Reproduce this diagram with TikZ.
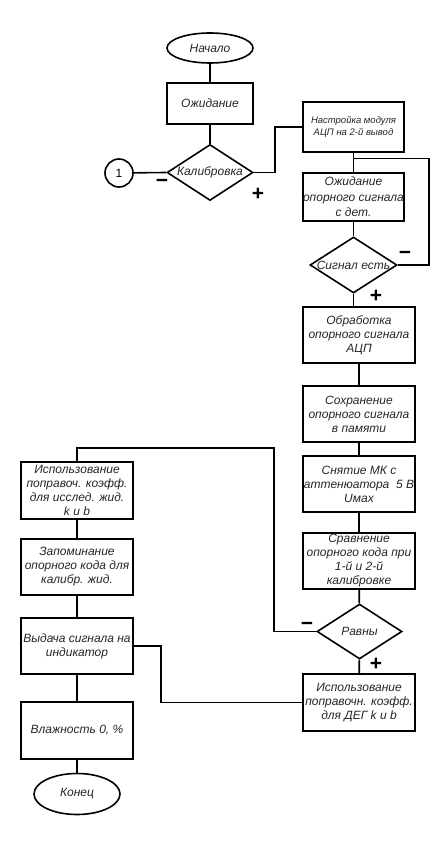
\documentclass[tikz,border=0pt]{standalone}
\usepackage{fontspec}
\setmainfont{Liberation Sans}
\usetikzlibrary{shapes.geometric,calc}
\begin{document}
\begin{tikzpicture}[x=1pt,y=-1pt,line width=1.6pt,
  txt/.style={align=center,inner sep=0pt,text=black!85,font=\itshape\fontsize{12}{14}\selectfont},
  smalltxt/.style={txt,font=\itshape\fontsize{9.5}{12.5}\selectfont},
  proc/.style={draw,rectangle,inner sep=0pt},
  term/.style={draw,ellipse,inner sep=0pt,minimum width=86pt},
  decide/.style={draw,diamond,inner sep=0pt,minimum width=86pt,minimum height=56pt},
  sign/.style={inner sep=0pt,font=\bfseries\fontsize{21}{21}\selectfont}]
\useasboundingbox (0,0) rectangle (446,842);

% terminals
\node[term,minimum height=30pt,label={[txt]center:Начало}] (start) at (210,48) {};
\node[proc,minimum width=86pt,minimum height=41pt,label={[txt]center:Ожидание}] (wait1) at (210,103.5) {};
\node[decide,label={[txt]center:Калибровка}] (calib) at (210,172.5) {};
\node[draw,circle,minimum size=28pt,inner sep=0pt,font=\fontsize{12}{14}\selectfont] (c1) at (119,173) {1};

% right column upper
\node[proc,minimum width=101pt,minimum height=50pt,label={[smalltxt]center:Настройка модуля\\АЦП на 2-й вывод}] (nast) at (353.5,127) {};
\node[proc,minimum width=101pt,minimum height=48pt,label={[txt,font=\itshape\fontsize{12}{15.5}\selectfont]center:Ожидание\\опорного сигнала\\с дет.}] (wait2) at (353.5,197) {};
\node[decide,minimum width=87pt,label={[txt]center:Сигнал есть}] (sig) at (353.5,265) {};

% right column lower
\node[proc,minimum width=112pt,minimum height=56pt,label={[txt]center:Обработка\\опорного сигнала\\АЦП}] (obr) at (359,335) {};
\node[proc,minimum width=112pt,minimum height=56pt,label={[txt]center:Сохранение\\опорного сигнала\\в памяти}] (sohr) at (359,414) {};
\node[proc,minimum width=112pt,minimum height=56pt,label={[txt]center:Снятие МК с\\аттенюатора~ 5 В\\Uмах}] (snyat) at (359,484) {};
\node[proc,minimum width=112pt,minimum height=56pt,label={[txt]center:Сравнение\\опорного кода при\\1-й и 2-й\\калибровке}] (srav) at (359,561) {};
\node[decide,minimum width=85pt,minimum height=55pt,label={[txt]center:Равны}] (ravny) at (359.5,631.5) {};
\node[proc,minimum width=112pt,minimum height=57pt,label={[txt]center:Использование\\поправочн. коэфф.\\для ДЕГ k и b}] (isp2) at (359,702.5) {};

% left column
\node[proc,minimum width=112pt,minimum height=57pt,label={[txt]center:Использование\\поправоч. коэфф.\\для исслед. жид.\\k и b}] (isp1) at (77,490.5) {};
\node[proc,minimum width=112pt,minimum height=56pt,label={[txt]center:Запоминание\\опорного кода для\\калибр. жид.}] (zap) at (77,567) {};
\node[proc,minimum width=112pt,minimum height=56pt,label={[txt]center:Выдача сигнала на\\индикатор}] (vyd) at (77,646) {};
\node[proc,minimum width=112pt,minimum height=57pt,label={[txt]center:Влажность 0, \%}] (vlazh) at (77,730.5) {};
\node[term,minimum height=41pt,label={[txt]center:Конец}] (kon) at (77,794) {};

% signs
\node[sign] (m1) at (162,183) {−};
\node[sign] (p1) at (258,194) {+};
\node[sign] (m2) at (405,255) {−};
\node[sign] (p2) at (376,296) {+};
\node[sign] (m3) at (307,626) {−};
\node[sign] (p3) at (376,664) {+};

% connectors
\draw (start) -- (wait1);
\draw (wait1) -- (calib);
\draw (calib.west) -- (c1);
\draw (calib.east) -- ++(21,0) |- (nast.west);
\draw (nast) -- (wait2);
\coordinate (j1) at ($(nast.south)!0.29!(wait2.north)$);
\draw (sig.east) -- ++(31,0) |- (j1);
\draw (wait2) -- (sig);
\draw (sig.south) -- (sig.south |- obr.north);
\draw (obr) -- (sohr);
\draw (sohr) -- (snyat);
\draw (snyat) -- (srav);
\draw (srav) -- (ravny);
\draw (ravny) -- (isp2);
\coordinate (k2) at (274,448);
\draw (ravny.west) -| (k2) -| (isp1.north);
\draw (isp1) -- (zap);
\draw (zap) -- (vyd);
\draw (vyd) -- (vlazh);
\draw (vlazh) -- (kon);
\draw (isp2.west) -- ++(-141,0) |- (vyd.east);
\end{tikzpicture}
\end{document}
